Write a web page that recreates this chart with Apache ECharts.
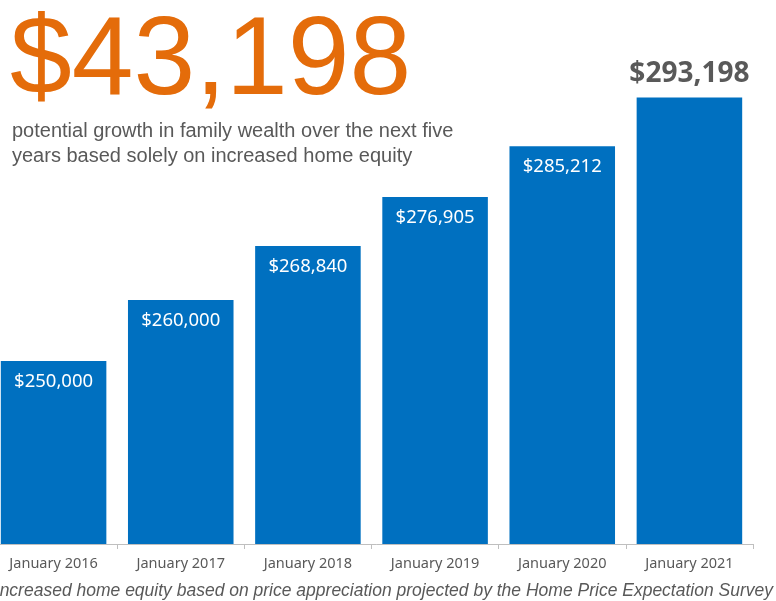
<!DOCTYPE html>
<html>
<head>
<meta charset="utf-8">
<script src="https://cdn.jsdelivr.net/npm/echarts@6/dist/echarts.min.js"></script>
<style>
  html, body { margin: 0; padding: 0; background: #fff; }
  #chart { width: 776px; height: 601px; }
</style>
</head>
<body>
<div id="chart"></div>
<script>
// 数据
var years = ['January 2016', 'January 2017', 'January 2018', 'January 2019', 'January 2020', 'January 2021'];
var homeValues = [250000, 260000, 268840, 276905, 285212, 293198];
var growthText = '$43,198';
var subText = 'potential growth in family wealth over the next five\nyears based solely on increased home equity';
var footText = 'Increased home equity based on price appreciation projected by the Home Price Expectation Survey';

function money(v) {
  return '$' + v.toLocaleString('en-US');
}

var chart = echarts.init(document.getElementById('chart'));

var barData = homeValues.map(function (v, i) {
  var last = i === homeValues.length - 1;
  return {
    value: v,
    label: last ? {
      position: 'top',
      distance: 9,
      color: '#595959',
      fontSize: 28,
      fontWeight: 'bold'
    } : {}
  };
});

var option = {
  animation: false,
  grid: { left: -10, right: 23, top: 56, bottom: 57, outerBoundsMode: 'none', containLabel: false },
  xAxis: {
    type: 'category',
    data: years,
    axisLine: { lineStyle: { color: '#bfbfbf', width: 1 } },
    axisTick: { show: true, length: 5, lineStyle: { color: '#bfbfbf' } },
    axisLabel: { color: '#595959', fontSize: 14.5, fontFamily: 'Noto Sans', margin: 12 }
  },
  yAxis: {
    type: 'value',
    min: 220000,
    max: 300000,
    show: false,
    splitLine: { show: false }
  },
  series: [{
    type: 'bar',
    data: barData,
    barCategoryGap: '17%',
    itemStyle: { color: '#0070C0' },
    label: {
      show: true,
      position: 'insideTop',
      distance: 11,
      color: '#fff',
      fontSize: 18.5,
      fontFamily: 'Noto Sans',
      formatter: function (p) { return money(p.value); }
    }
  }],
  graphic: [
    {
      type: 'text', left: 10, top: 8,
      style: { text: growthText, fill: '#E46C0A', fontSize: 111, fontFamily: 'Liberation Sans, Arial' }
    },
    {
      type: 'text', left: 12, top: 119,
      style: { text: subText, fill: '#595959', fontSize: 20, lineHeight: 25, fontFamily: 'Liberation Sans, Arial' }
    },
    {
      type: 'text', right: 3, top: 582,
      style: { text: footText, fill: '#595959', fontSize: 17.5, fontStyle: 'italic', fontFamily: 'Liberation Sans, Arial' }
    }
  ]
};

chart.setOption(option);
</script>
</body>
</html>
